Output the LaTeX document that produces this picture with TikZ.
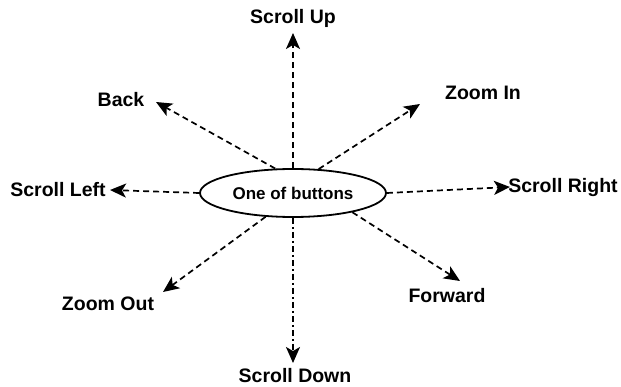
\documentclass[tikz,border=0pt]{standalone}
\usepackage{fontspec}
\setmainfont{Liberation Sans}
\usetikzlibrary{arrows.meta,shapes.geometric}

\begin{document}
\begin{tikzpicture}[
  x=1pt, y=-1pt,
  lab/.style={inner sep=0pt, font=\fontsize{19.5}{22}\selectfont\bfseries},
  btnbox/.style={draw, ellipse, line width=1.8pt, minimum width=186pt, minimum height=48pt, inner sep=0pt, font=\fontsize{17}{19}\selectfont\bfseries},
  conn/.style={draw, line width=1.7pt, dash pattern=on 6pt off 4pt, -{Stealth[length=16pt, width=14pt, inset=4pt]}},
  conndot/.style={conn, dash pattern=on 6pt off 3pt on 2pt off 3pt},
]
\useasboundingbox (0,0) rectangle (621,387);
% centre
\node[btnbox] (btn) at (293,193) {One of buttons};
% labels
\node[lab] (up) at (293,18) {Scroll Up};
\node[lab] (down) at (295,376) {Scroll Down};
\node[lab] (left) at (58,190) {Scroll Left};
\node[lab] (right) at (563,188) {Scroll Right};
\node[lab] (back) at (121,100) {Back};
\node[lab] (zin) at (483,93) {Zoom In};
\node[lab] (zout) at (108,304) {Zoom Out};
\node[lab] (fwd) at (447,296) {Forward};
% arrow tips
\coordinate (upT) at (293,33);
\coordinate (downT) at (293,363);
\coordinate (leftT) at (110,190);
\coordinate (rightT) at (510,187);
\coordinate (backT) at (156,102);
\coordinate (zinT) at (420,104);
\coordinate (zoutT) at (163,292);
\coordinate (fwdT) at (460,281);
% connectors
\draw[conn] (btn.north) -- (upT);
\draw[conndot] (btn.south) -- (downT);
\draw[conn] (btn.west) -- (leftT);
\draw[conn] (btn.east) -- (rightT);
\draw[conn] (btn.126) -- (backT);
\draw[conn] (btn.43) -- (zinT);
\draw[conn] (btn.221) -- (zoutT);
\draw[conn] (btn.-18) -- (fwdT);
\end{tikzpicture}
\end{document}
